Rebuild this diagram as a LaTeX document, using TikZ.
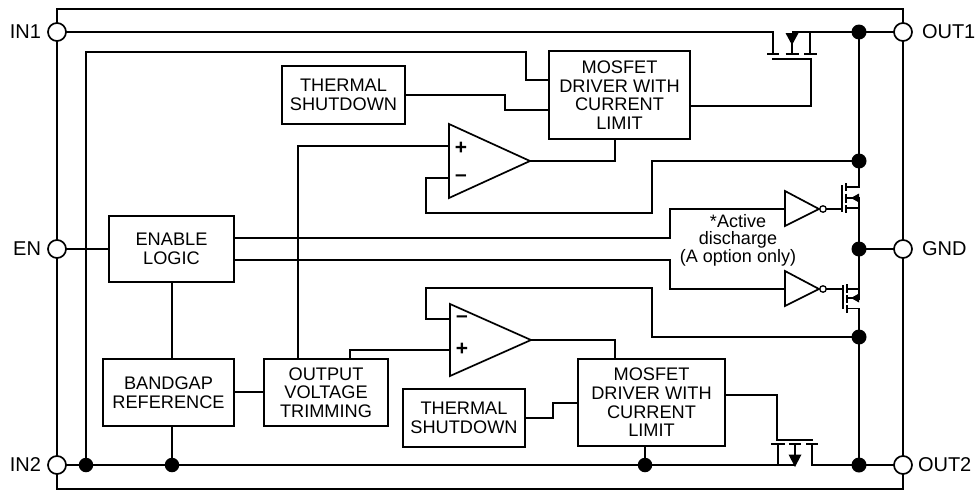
\documentclass[tikz,border=0pt]{standalone}
\usepackage{fontspec}
\setmainfont{Liberation Sans}
\tikzset{x=1pt,y=-1pt,
  wire/.style={line width=1.7pt,line join=miter,line cap=butt},
  blk/.style={draw,line width=1.7pt,fill=white,inner sep=0pt,outer sep=0pt,align=center,font=\fontsize{18.2}{18.6}\selectfont,anchor=north west},
  pin/.style={circle,draw,line width=1.7pt,fill=white,minimum size=18pt,inner sep=0pt,outer sep=0pt},
  dotj/.style={circle,fill=black,minimum size=15pt,inner sep=0pt,outer sep=0pt},
  lbl/.style={inner sep=0pt,outer sep=0pt,font=\fontsize{20}{22}\selectfont},
  sgn/.style={inner sep=0pt,outer sep=0pt,font=\fontsize{21}{22}\bfseries\selectfont},
  bub/.style={circle,draw,line width=1.3pt,fill=white,minimum size=6.5pt,inner sep=0pt,outer sep=0pt},
}
\begin{document}
\begin{tikzpicture}
\useasboundingbox (0,0) rectangle (977,493);
% outer frame
\node[draw,line width=1.7pt,inner sep=0pt,outer sep=0pt,minimum width=846pt,minimum height=480pt,anchor=north west] (frame) at (57,9) {};
% blocks
\node[blk,minimum width=141pt,minimum height=88pt] (drvA) at (549,51) {MOSFET\\DRIVER WITH\\CURRENT\\LIMIT};
\node[blk,minimum width=123pt,minimum height=58pt] (thA) at (282,66) {THERMAL\\SHUTDOWN};
\node[blk,minimum width=125pt,minimum height=66pt] (en) at (109,216) {ENABLE\\LOGIC};
\node[blk,minimum width=131pt,minimum height=67pt] (bg) at (103,359) {BANDGAP\\REFERENCE};
\node[blk,minimum width=124pt,minimum height=67pt] (trim) at (264,359) {OUTPUT\\VOLTAGE\\TRIMMING};
\node[blk,minimum width=147pt,minimum height=87pt] (drvB) at (578,359) {MOSFET\\DRIVER WITH\\CURRENT\\LIMIT};
\node[blk,minimum width=122pt,minimum height=58pt] (thB) at (403,389) {THERMAL\\SHUTDOWN};
% junction coordinates
\coordinate (jA) at (859,32);
\coordinate (jB) at (859,161);
\coordinate (jG) at (859,249);
\coordinate (jC) at (859,337);
\coordinate (jD) at (859,465);
\coordinate (jE) at (86,465);
\coordinate (jF) at (172,465);
\coordinate (jH) at (645,465);
% op amps
\coordinate (oaA) at (530,161); \coordinate (oaB) at (531,340);
\draw[wire] (449,124) -- (449,198) -- (oaA) -- cycle;
\draw[wire] (450,304) -- (450,376) -- (oaB) -- cycle;
\node[sgn] (pA) at (461,148) {+};
\node[sgn] (mA) at (461,178) {–};
\node[sgn] (mB) at (462,319) {–};
\node[sgn] (pB) at (462,349) {+};
% top rail
\draw[wire] (57,32) -- (773,32) -- (773,54);
\draw[wire] (792,32) -- (810,32);
\draw[wire] (810,54) -- (810,32) -- (jA);
\draw[wire] (767,54) -- (779,54) (785.5,54) -- (799,54) (804,54) -- (817,54);
\draw[wire] (792,40) -- (792,54);
\fill (785.5,33) -- (798.5,33) -- (792,45) -- cycle;
\draw[wire] (772,59) -- (811,59) -- (811,106) -- (drvA.east |- 0,106);
\draw[wire] (jA) -- (859,187) -- (846,187);
\draw[wire] (jA) -- (903,32);
% inner left rail
\draw[wire] (jE) -- (86,52) -- (526,52) -- (526,80) -- (drvA.west |- 0,80);
\draw[wire] (thA.east) -- (505,95) -- (505,110) -- (drvA.west |- 0,110);
\draw[wire] (oaA) -- (615,161) -- (615,139);
\draw[wire] (449,146) -- (298,146) -- (298,359);
\draw[wire] (449,178) -- (426,178) -- (426,213) -- (652,213) -- (652,161) -- (jB);
% enable
\draw[wire] (57,249) -- (en.west);
\draw[wire] (en.east |- 0,238) -- (670,238) -- (670,209) -- (785,209);
\draw[wire] (en.east |- 0,260) -- (670,260) -- (670,289) -- (785,289);
\draw[wire] (172,282) -- (172,359);
\draw[wire] (bg.east |- 0,392) -- (trim.west |- 0,392);
\draw[wire] (172,426) -- (jF);
% lower amp
\draw[wire] (450,319) -- (426,319) -- (426,288) -- (652,288) -- (652,337) -- (jC);
\draw[wire] (450,350) -- (350,350) -- (350,359);
\draw[wire] (oaB) -- (615,340) -- (615,359);
\draw[wire] (thB.east) -- (553,418) -- (553,403) -- (drvB.west |- 0,403);
\draw[wire] (drvB.east |- 0,395) -- (777,395) -- (777,440) -- (813,440);
\draw[wire] (645,446) -- (jH);
% bottom rail
\draw[wire] (57,465) -- (795,465);
\draw[wire] (778,465) -- (778,444);
\draw[wire] (771,444) -- (785,444) (789,444) -- (801,444) (806,444) -- (818,444);
\draw[wire] (795,444) -- (795,456);
\fill (788.5,454.5) -- (801.5,454.5) -- (795,467) -- cycle;
\draw[wire] (812,444) -- (812,465) -- (jD) -- (903,465);
% inverters
\draw[wire] (785,191) -- (785,226) -- (819,209) -- cycle;
\draw[wire] (785,271) -- (785,306) -- (819,289) -- cycle;
\node[bub] (bubA) at (823,209) {};
\node[bub] (bubB) at (823,289) {};
% upper FET
\draw[wire] (bubA) -- (842,209);
\draw[wire] (842,185) -- (842,212);
\draw[wire] (846,183) -- (846,191) (846,193.5) -- (846,203) (846,205) -- (846,213);
\draw[wire] (846,208) -- (859,208);
\draw[wire] (846,198) -- (859,198) -- (jG);
\fill (851,198) -- (859,193.5) -- (859,202.5) -- cycle;
% lower FET
\draw[wire] (bubB) -- (843,289);
\draw[wire] (843,285) -- (843,309);
\draw[wire] (847,284) -- (847,293) (847,295) -- (847,303) (847,305) -- (847,313);
\draw[wire] (847,289) -- (859,289);
\draw[wire] (847,298) -- (859,298);
\draw[wire] (jG) -- (859,300);
\fill (851,298) -- (859,293.5) -- (859,302.5) -- cycle;
\draw[wire] (847,308.5) -- (859,308.5) -- (jD);
\draw[wire] (jG) -- (903,249);
% dots
\foreach \j/\n in {jA/dA,jB/dB,jG/dG,jC/dC,jD/dD}{\node[dotj] (\n) at (\j) {};}
\node[dotj,minimum size=14.5pt] (dE) at (jE) {};
\node[dotj,minimum size=14.5pt] (dF) at (jF) {};
\node[dotj,minimum size=14.5pt] (dH) at (jH) {};
% pins
\node[pin] (in1) at (57,32) {};
\node[pin] (enp) at (57,249) {};
\node[pin] (in2) at (57,465) {};
\node[pin] (out1) at (903,32) {};
\node[pin] (gnd) at (903,249) {};
\node[pin] (out2) at (903,465) {};
\node[lbl,anchor=east] (tIn1) at (41,32) {IN1};
\node[lbl,anchor=east] (tEn) at (41,249) {EN};
\node[lbl,anchor=east] (tIn2) at (41,465) {IN2};
\node[lbl,anchor=west] (tOut1) at (922,32) {OUT1};
\node[lbl,anchor=west] (tGnd) at (922,249) {GND};
\node[lbl,anchor=west] (tOut2) at (918,465) {OUT2};
\node[inner sep=0pt,outer sep=0pt,align=center,font=\fontsize{18}{17.5}\selectfont] (note) at (738,240) {*Active\\discharge\\(A option only)};
\end{tikzpicture}
\end{document}
